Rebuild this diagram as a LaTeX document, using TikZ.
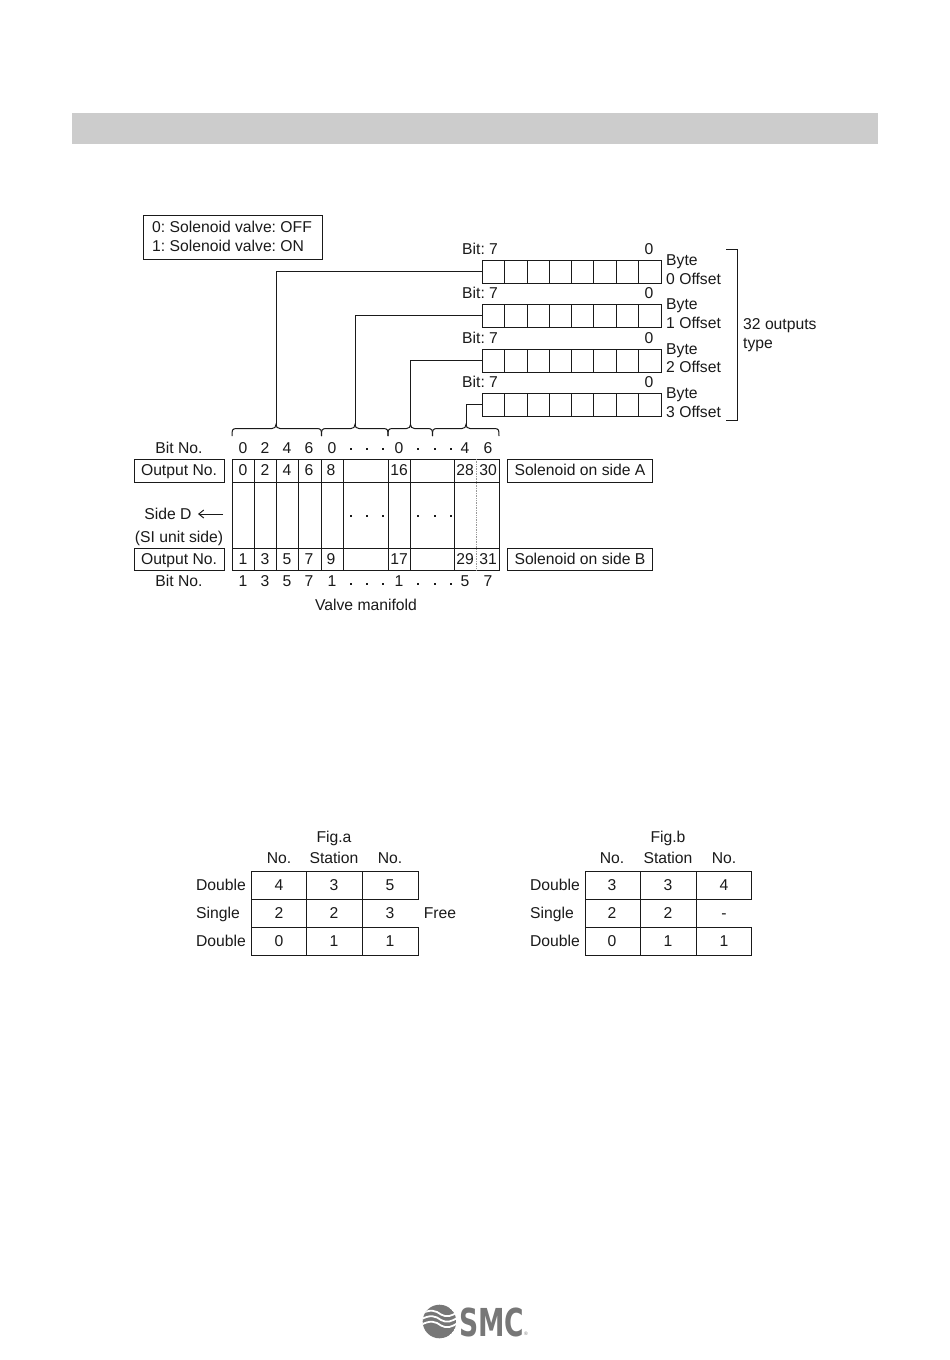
\documentclass[tikz,border=0pt]{standalone}
\usepackage{fontspec}
\usetikzlibrary{arrows.meta,bending}
\setmainfont{Liberation Sans}
\newfontfamily\logofont{DejaVu Sans}
\frenchspacing
\definecolor{ink}{HTML}{1A1A1A}
\definecolor{logo}{HTML}{777777}
\tikzset{
  line/.style={draw=ink,line width=1pt},
  faintline/.style={draw=gray!80,line width=0.7pt,densely dotted},
  txt/.style={inner sep=0pt,text=ink,font=\fontsize{15.7}{18}\selectfont,anchor=base},
  ltxt/.style={txt,anchor=base west},
  dotmark/.style={fill=ink,inner sep=0pt,minimum width=2.6pt,minimum height=2.6pt},
  cellbox/.style={line,inner sep=0pt,anchor=north west},
  conn/.style={line}
}
\newcommand{\bracepath}[4]{% left, tip x, right, name
  \coordinate (#4) at (#2,424.5);
  \draw[line] (#1,436) .. controls (#1,430) and (#1,428.5) .. (#1+5,428.5)
     -- (#2-4,428.5) .. controls (#2-1.5,428.5) and (#2,427) .. (#4)
     .. controls (#2,427) and (#2+1.5,428.5) .. (#2+4,428.5)
     -- (#3-5,428.5) .. controls (#3,428.5) and (#3,430) .. (#3,436);
}
\begin{document}
\begin{tikzpicture}[x=1pt,y=-1pt]
\useasboundingbox (0,0) rectangle (950,1360);
\fill[white] (0,0) rectangle (950,1360);
\node[fill=black!20,inner sep=0pt,minimum width=806pt,minimum height=31pt,anchor=north west] (bar) at (72,113) {};

% legend
\node[cellbox,minimum width=179pt,minimum height=44pt] (legend) at (143,215) {};
\node[ltxt] (leg0) at (152,232) {0: Solenoid valve: OFF};
\node[ltxt] (leg1) at (152,251) {1: Solenoid valve: ON};

% registers
\foreach \i/\yt/\ybit/\ya/\yb in {0/260/254/265/284,1/304/298/309/328,2/349/343/354/372,3/393/387/398/417}{
  \node[cellbox,minimum width=179pt,minimum height=22.5pt] (reg\i) at (482,\yt) {};
  \foreach \cc in {504,527,549,571,593,616,638}
    \draw[line] (\cc,\yt) -- (\cc,\yt+22.5);
  \node[ltxt] (bit\i) at (462,\ybit) {Bit: 7};
  \node[txt] (zero\i) at (649,\ybit) {0};
  \node[ltxt] (byte\i) at (666,\ya) {Byte};
  \node[ltxt] (off\i) at (666,\yb) {\i\ Offset};
}
% outer bracket
\coordinate (bra) at (726,249);
\coordinate (brb) at (726,420);
\draw[line] (bra) -- (737,249) -- (737,420) -- (brb);
\node[ltxt] (type1) at (743,329) {32 outputs};
\node[ltxt] (type2) at (743,348) {type};

% braces
\bracepath{232}{276}{321.5}{tipa}
\bracepath{321.5}{355}{388}{tipb}
\bracepath{388}{410.5}{432.5}{tipc}
\bracepath{432.5}{466}{499}{tipd}
\draw[conn] (reg0.west) -| (tipa);
\draw[conn] (reg1.west) -| (tipb);
\draw[conn] (reg2.west) -| (tipc);
\draw[conn] (reg3.west) -| (tipd);

% manifold grid
\node[cellbox,minimum width=267pt,minimum height=111pt] (grid) at (232,459) {};
\draw[line] (232,482) -- (499,482);
\draw[line] (232,548) -- (499,548);
\foreach \cc in {254,276,298,321,343,388,410,454}
  \draw[line] (\cc,459) -- (\cc,570);
\draw[faintline] (476.5,459) -- (476.5,570);

\node[cellbox,minimum width=90pt,minimum height=23pt] (outa) at (134,459) {};
\node[cellbox,minimum width=90pt,minimum height=22pt] (outb) at (134,548) {};
\node[txt] (outat) at (179,475.5) {Output No.};
\node[txt] (outbt) at (179,564) {Output No.};
\node[cellbox,minimum width=145pt,minimum height=23pt] (sola) at (507,459) {};
\node[cellbox,minimum width=145pt,minimum height=22pt] (solb) at (507,548) {};
\node[txt] (solat) at (580,475.5) {Solenoid on side A};
\node[txt] (solbt) at (580,564) {Solenoid on side B};

\node[txt] (bna) at (179,453.5) {Bit No.};
\node[txt] (bnb) at (179,586.5) {Bit No.};
\foreach \x/\tx [count=\n] in {243/0,265/2,287/4,309/6,332/0,399/0,465/4,488/6}
  \node[txt] (tb\n) at (\x,453.5) {\tx};
\foreach \x/\tx [count=\n] in {243/1,265/3,287/5,309/7,332/1,399/1,465/5,488/7}
  \node[txt] (bb\n) at (\x,586.5) {\tx};
\foreach \x/\tx [count=\n] in {243/0,265/2,287/4,309/6,331/8,399/16,465/28,488/30}
  \node[txt] (ot\n) at (\x,475.5) {\tx};
\foreach \x/\tx [count=\n] in {243/1,265/3,287/5,309/7,331/9,399/17,465/29,488/31}
  \node[txt] (ob\n) at (\x,564) {\tx};
\foreach \y [count=\r] in {449,516,584}{
  \foreach \x [count=\n] in {351,367,383,418,435,451}
    \node[dotmark] (dot\r\n) at (\x,\y) {};
}
\node[txt] (sided) at (168,519.5) {Side D};
\coordinate (arrs) at (223,514);
\coordinate (arre) at (198,514);
\draw[line,-{Straight Barb[length=5pt,width=8pt]}] (arrs) -- (arre);
\node[txt] (siun) at (179,542.5) {(SI unit side)};
\node[txt] (vm) at (366,610.5) {Valve manifold};

% Fig tables
\foreach \LL/\nm/\xa/\xb/\xc/\xd/\nc/\fg/\vala/\valb/\valc/\xlab/\xlabs/\cfirst in {
  a/Fig.a/251/306/362/418/279/334/5/3/1/221/218/4,
  b/Fig.b/585/640/696/751/612/668/4/-/1/555/552/3}{
  \node[cellbox,minimum width=\xd pt-\xa pt,minimum height=28pt] (fig\LL top) at (\xa,871) {};
  \node[cellbox,minimum width=\xd pt-\xa pt,minimum height=28pt] (fig\LL bot) at (\xa,927) {};
  \draw[line] (\xa,899) -- (\xa,927);
  \draw[line] (\xb,871) -- (\xb,955);
  \draw[line] (\xc,871) -- (\xc,955);
  \node[txt] (ttl\LL) at (\fg,842) {\nm};
  \node[txt] (sta\LL) at (\fg,863) {Station};
  \node[txt] (noa\LL) at (\nc,863) {No.};
  \node[txt] (nob\LL) at (\xc+28,863) {No.};
  \node[txt] (da\LL) at (\xlab,890) {Double};
  \node[txt] (sa\LL) at (\xlabs,918) {Single};
  \node[txt] (db\LL) at (\xlab,946) {Double};
  \node[txt] (ca\LL) at (\nc,890) {\cfirst};
  \node[txt] (cb\LL) at (\nc,918) {2};
  \node[txt] (cc\LL) at (\nc,946) {0};
  \node[txt] (ma\LL) at (\fg,890) {3};
  \node[txt] (mb\LL) at (\fg,918) {2};
  \node[txt] (mc\LL) at (\fg,946) {1};
  \node[txt] (ra\LL) at (\xc+28,890) {\vala};
  \node[txt] (rb\LL) at (\xc+28,918) {\valb};
  \node[txt] (rc\LL) at (\xc+28,946) {\valc};
}
\node[txt] (free) at (440,918) {Free};

% logo
\begin{scope}
  \clip (439.5,1321.5) circle (16.8);
  \fill[logo] (439.5,1321.5) circle (16.8);
  \foreach \dy in {-5.5,0,5.5}
    \draw[white,line width=1.8pt] (420,1320+\dy) .. controls (430,1314+\dy) and (436,1316+\dy) .. (441,1320+\dy)
      .. controls (446,1323+\dy) and (452,1322+\dy) .. (458,1317+\dy);
\end{scope}
\node[inner sep=0pt,anchor=base west,text=logo,xscale=0.69,font=\logofont\fontsize{38.5}{39}\bfseries\selectfont] (smc) at (459,1336) {SMC};
\node[inner sep=0pt,anchor=base,text=logo,font=\fontsize{5}{5}\selectfont] (regmark) at (526,1335) {®};
\end{tikzpicture}
\end{document}
